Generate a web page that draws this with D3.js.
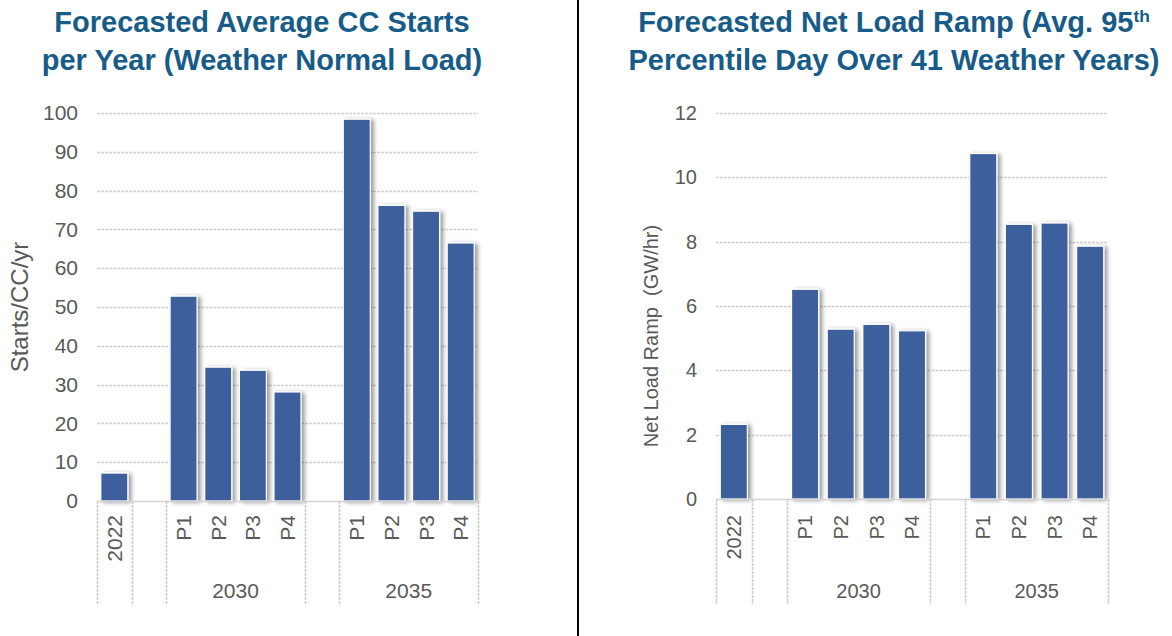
<!DOCTYPE html>
<html>
<head>
<meta charset="utf-8">
<script src="https://cdn.jsdelivr.net/npm/d3@7"></script>
<style>
  html, body { margin: 0; padding: 0; background: #ffffff; }
  svg { display: block; }
  text { font-family: "Liberation Sans", Arial, sans-serif; }
</style>
</head>
<body>
<svg id="chart" width="1172" height="636"></svg>
<script>
// ---- data ----
const yearCategories = ["2022", "2030", "2035"];
const portfolioLabels = ["P1", "P2", "P3", "P4"];

// Average combined-cycle starts per year (weather normal load)
const ccStarts2022 = [7.2];
const ccStarts2030 = [52.8, 34.5, 33.7, 28.1];
const ccStarts2035 = [98.4, 76.2, 74.7, 66.5];

// Net load ramp, GW/hr (avg. 95th percentile day over 41 weather years)
const ramp2022 = [2.32];
const ramp2030 = [6.52, 5.28, 5.43, 5.23];
const ramp2035 = [10.74, 8.54, 8.58, 7.86];

const startsTicks = [0, 10, 20, 30, 40, 50, 60, 70, 80, 90, 100];
const rampTicks = [0, 2, 4, 6, 8, 10, 12];

// ---- styling ----
const BAR = "#3e5e9c";
const TITLE = "#175c88";
const TEXT = "#595959";
const GRID = "#d3d3d3";

const svg = d3.select("#chart");

const defs = svg.append("defs");
const shadow = defs.append("filter").attr("id", "barShadow")
  .attr("x", "-20%").attr("y", "-10%").attr("width", "160%").attr("height", "130%");
shadow.append("feDropShadow")
  .attr("dx", 3).attr("dy", 1).attr("stdDeviation", 2)
  .attr("flood-color", "#000").attr("flood-opacity", 0.4);

// Build the slot list: a lone 2022 slot, a spacer, then P1-P4 for 2030 and 2035
function buildSlots(v2022, v2030, v2035) {
  const slots = [];
  slots.push({ key: "2022", label: "2022", group: null, value: v2022[0] });
  slots.push({ key: "gap-a", label: null, group: null, value: null });
  portfolioLabels.forEach((p, i) => slots.push({ key: "2030-" + p, label: p, group: yearCategories[1], value: v2030[i] }));
  slots.push({ key: "gap-b", label: null, group: null, value: null });
  portfolioLabels.forEach((p, i) => slots.push({ key: "2035-" + p, label: p, group: yearCategories[2], value: v2035[i] }));
  return slots;
}

function drawPanel(cfg) {
  const slots = buildSlots(cfg.v2022, cfg.v2030, cfg.v2035);
  const g = svg.append("g");

  const x = d3.scaleBand()
    .domain(slots.map(d => d.key))
    .range([cfg.x0, cfg.x1])
    .paddingInner(cfg.pad)
    .paddingOuter(cfg.pad / 2);
  const y = d3.scaleLinear().domain(cfg.domain).range([cfg.yBase, cfg.yTop]);
  const step = x.step();
  const left = k => x(k) - x.paddingInner() * step / 2;

  // horizontal gridlines
  g.append("g").selectAll("line").data(cfg.ticks.slice(1)).join("line")
    .attr("x1", cfg.x0).attr("x2", cfg.x1)
    .attr("y1", d => Math.round(y(d)) + 0.5).attr("y2", d => Math.round(y(d)) + 0.5)
    .attr("stroke", GRID).attr("stroke-width", 1.3).attr("stroke-dasharray", "3,1");

  // value axis labels
  const yAxis = g.append("g")
    .attr("transform", `translate(${cfg.x0},0)`)
    .call(d3.axisLeft(y).tickValues(cfg.ticks).tickSize(0).tickPadding(cfg.tickPad));
  yAxis.select(".domain").remove();
  yAxis.selectAll("text")
    .attr("fill", TEXT).style("font-size", cfg.tickFont + "px")
    .style("font-family", "'Liberation Sans', Arial, sans-serif");

  // bars
  g.append("g").selectAll("rect").data(slots.filter(d => d.value != null)).join("rect")
    .attr("x", d => x(d.key))
    .attr("width", x.bandwidth())
    .attr("y", d => y(d.value))
    .attr("height", d => y(0) - y(d.value))
    .attr("fill", BAR)
    .attr("stroke", "#ffffff").attr("stroke-width", 1.2)
    .attr("filter", "url(#barShadow)");

  // category axis baseline
  g.append("line")
    .attr("x1", cfg.x0).attr("x2", cfg.x1)
    .attr("y1", Math.round(y(0)) + 0.5).attr("y2", Math.round(y(0)) + 0.5)
    .attr("stroke", GRID).attr("stroke-width", 1.3);

  // category divider lines (around 2022, spacers and group ends)
  const dividers = [
    left(slots[0].key), left(slots[1].key), left(slots[2].key),
    left(slots[6].key), left(slots[7].key), cfg.x1
  ];
  g.append("g").selectAll("line").data(dividers).join("line")
    .attr("x1", d => Math.round(d) + 0.5).attr("x2", d => Math.round(d) + 0.5)
    .attr("y1", y(0)).attr("y2", cfg.axisBottom)
    .attr("stroke", "#cbcbcb").attr("stroke-width", 1.5).attr("stroke-dasharray", "3,1");

  // rotated inner category labels
  g.append("g").selectAll("text").data(slots.filter(d => d.label)).join("text")
    .attr("transform", d => `translate(${x(d.key) + x.bandwidth() / 2},${cfg.labelTop}) rotate(-90)`)
    .attr("text-anchor", "end").attr("dy", "0.36em")
    .attr("fill", TEXT).style("font-size", cfg.tickFont + "px")
    .text(d => d.label);

  // outer group labels
  const groups = yearCategories.slice(1).map(yr => {
    const keys = slots.filter(d => d.group === yr).map(d => d.key);
    return { yr, cx: (left(keys[0]) + left(keys[keys.length - 1]) + step) / 2 };
  });
  g.append("g").selectAll("text").data(groups).join("text")
    .attr("x", d => d.cx).attr("y", cfg.groupBaseline)
    .attr("text-anchor", "middle")
    .attr("fill", TEXT).style("font-size", cfg.tickFont + "px")
    .text(d => d.yr);

  // value axis title
  g.append("text")
    .attr("transform", `translate(${cfg.yTitleX},${cfg.yTitleY}) rotate(-90)`)
    .attr("text-anchor", "middle").attr("dy", "0.35em")
    .attr("fill", TEXT).style("font-size", cfg.yTitleFont + "px")
    .style("white-space", "pre")
    .text(cfg.yTitle);

  // chart title
  const t = g.append("text")
    .attr("text-anchor", "middle")
    .attr("fill", TITLE).style("font-size", cfg.titleFont + "px").style("font-weight", "bold");
  cfg.title.forEach((line, i) => {
    const ts = t.append("tspan").attr("x", cfg.titleX).attr("y", cfg.titleY + i * cfg.titleGap);
    line.forEach(part => {
      if (part.sup) {
        ts.append("tspan").attr("dy", "-0.55em").style("font-size", "0.6em").text(part.text);
      } else {
        ts.append("tspan").text(part.text);
      }
    });
  });
}

drawPanel({
  v2022: ccStarts2022, v2030: ccStarts2030, v2035: ccStarts2035,
  domain: [0, 100], ticks: startsTicks,
  x0: 97, x1: 478, yBase: 501, yTop: 113, pad: 0.22,
  tickPad: 19, tickFont: 21, labelTop: 515, groupBaseline: 598, axisBottom: 604,
  yTitle: "Starts/CC/yr", yTitleX: 20, yTitleY: 307, yTitleFont: 24,
  title: [[{ text: "Forecasted Average CC Starts" }], [{ text: "per Year (Weather Normal Load)" }]],
  titleX: 262, titleY: 32, titleGap: 38, titleFont: 29
});

drawPanel({
  v2022: ramp2022, v2030: ramp2030, v2035: ramp2035,
  domain: [0, 12], ticks: rampTicks,
  x0: 716, x1: 1108, yBase: 499, yTop: 113, pad: 0.24,
  tickPad: 19, tickFont: 20, labelTop: 515, groupBaseline: 598, axisBottom: 604,
  yTitle: "Net Load Ramp  (GW/hr)", yTitleX: 651, yTitleY: 336, yTitleFont: 20,
  title: [[{ text: "Forecasted Net Load Ramp (Avg. 95" }, { text: "th", sup: true }],
          [{ text: "Percentile Day Over 41 Weather Years)" }]],
  titleX: 894, titleY: 32, titleGap: 38, titleFont: 29
});

// black divider between the two charts
svg.append("line")
  .attr("x1", 578).attr("x2", 578).attr("y1", 0).attr("y2", 636)
  .attr("stroke", "#000").attr("stroke-width", 2);
</script>
</body>
</html>
